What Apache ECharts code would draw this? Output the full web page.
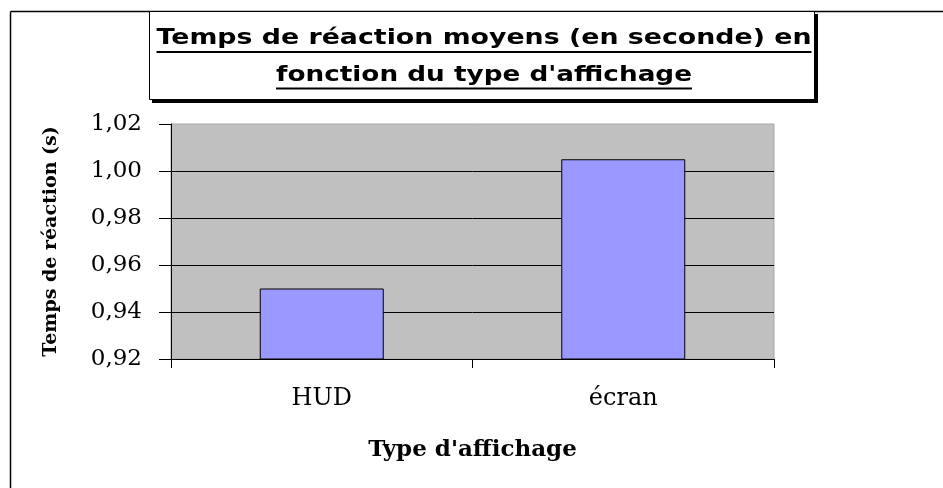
<!DOCTYPE html>
<html>
<head>
<meta charset="utf-8">
<script src="https://cdn.jsdelivr.net/npm/echarts@6/dist/echarts.min.js"></script>
<style>
  html, body { margin: 0; padding: 0; background: #fff; }
  #chart { width: 943px; height: 488px; }
</style>
</head>
<body>
<div id="chart"></div>
<script>
// Mean reaction times by display type
const categories = ['HUD', 'écran'];
const reactionTimes = [0.950, 1.005];
const yTicks = { min: 0.92, max: 1.02, step: 0.02 };
const titleLines = ['Temps de réaction moyens (en seconde) en', "fonction du type d'affichage"];
const yAxisName = 'Temps de réaction (s)';
const xAxisName = "Type d'affichage";

const chart = echarts.init(document.getElementById('chart'), null, { renderer: 'canvas' });

const serif = '"DejaVu Serif", "Liberation Serif", serif';

// Title text: stretched horizontally to the spaced-out width of the box
const titleFont = 'bold 22px "DejaVu Sans", sans-serif';
const measureCtx = document.createElement('canvas').getContext('2d');
measureCtx.font = titleFont;
const titleCenterX = 484;
const titleSpecs = [
  { text: titleLines[0], width: 655, y: 38.5, underline: 52 },
  { text: titleLines[1], width: 416, y: 75, underline: 88.5 }
];
const titleGraphics = [];
titleSpecs.forEach(function (s) {
  const w = measureCtx.measureText(s.text).width;
  const sx = s.width / w;
  titleGraphics.push({
    type: 'text',
    x: titleCenterX, y: s.y,
    scaleX: sx,
    style: {
      text: s.text, font: titleFont, fill: '#000',
      textAlign: 'center', textVerticalAlign: 'middle'
    },
    z: 12
  });
  titleGraphics.push({
    type: 'line',
    shape: { x1: titleCenterX - s.width / 2, y1: s.underline, x2: titleCenterX + s.width / 2, y2: s.underline },
    style: { stroke: '#000', lineWidth: 2 },
    z: 12
  });
});

const option = {
  backgroundColor: '#fff',
  animation: false,
  grid: { left: 171, right: 169, top: 124, bottom: 129, show: true, backgroundColor: '#c0c0c0', borderColor: '#a8a8a8', borderWidth: 1 },
  xAxis: {
    type: 'category',
    data: categories,
    name: xAxisName,
    nameLocation: 'middle',
    nameGap: 80,
    nameTextStyle: { fontFamily: serif, fontWeight: 'bold', fontSize: 23, color: '#000' },
    axisLine: { lineStyle: { color: '#000', width: 1 } },
    axisTick: { show: true, length: 9, alignWithLabel: false, lineStyle: { color: '#000' } },
    axisLabel: { margin: 28, fontFamily: serif, fontSize: 24, color: '#000' },
    splitLine: { show: false }
  },
  yAxis: {
    type: 'value',
    min: yTicks.min,
    max: yTicks.max,
    interval: yTicks.step,
    name: yAxisName,
    nameLocation: 'middle',
    nameGap: 110,
    nameTextStyle: { fontFamily: serif, fontWeight: 'bold', fontSize: 19, color: '#000' },
    axisLine: { show: true, lineStyle: { color: '#000', width: 1 } },
    axisTick: { show: true, length: 12, lineStyle: { color: '#000' } },
    axisLabel: {
      margin: 29,
      fontFamily: serif,
      fontSize: 23,
      color: '#000',
      formatter: function (v) { return v.toFixed(2).replace('.', ','); }
    },
    splitLine: { show: true, showMaxLine: false, lineStyle: { color: '#000', width: 1 } }
  },
  series: [{
    type: 'bar',
    data: reactionTimes,
    barWidth: 124,
    itemStyle: { color: '#9999ff', borderColor: '#000', borderWidth: 1 },
    z: 3
  }],
  graphic: [
    // outer chart frame (left and top edges visible)
    { type: 'line', shape: { x1: 10.5, y1: 11.5, x2: 10.5, y2: 490 }, style: { stroke: '#000', lineWidth: 1.5 }, z: 10 },
    { type: 'line', shape: { x1: 10.5, y1: 11.5, x2: 945, y2: 11.5 }, style: { stroke: '#000', lineWidth: 1.5 }, z: 10 },
    // title box with drop shadow
    { type: 'rect', shape: { x: 152, y: 14, width: 666, height: 89 }, style: { fill: '#000' }, z: 10 },
    { type: 'rect', shape: { x: 149.5, y: 11.5, width: 665, height: 88 }, style: { fill: '#fff', stroke: '#000', lineWidth: 1 }, z: 11 }
  ].concat(titleGraphics)
};

chart.setOption(option);
</script>
</body>
</html>
